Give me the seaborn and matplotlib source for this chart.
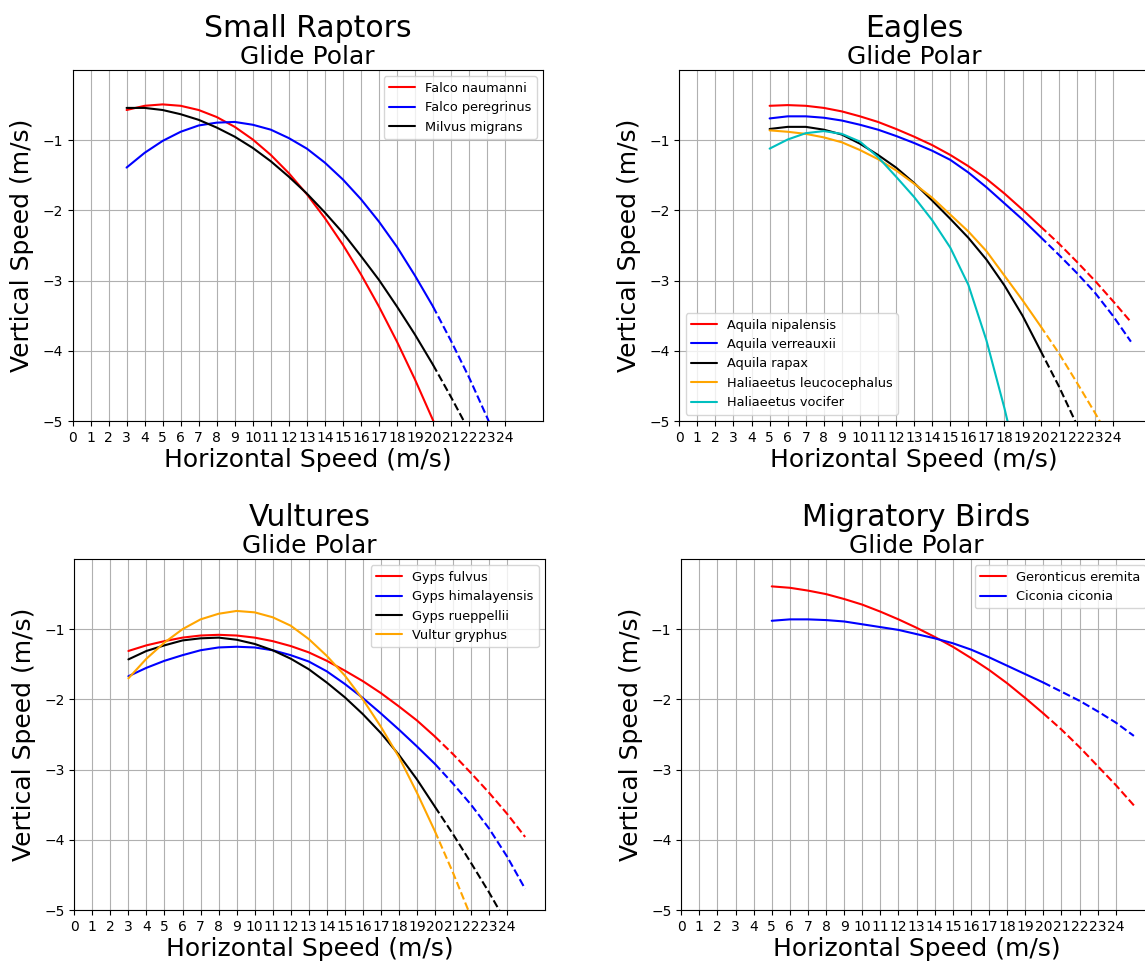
import matplotlib
matplotlib.use("Agg")
import matplotlib.pyplot as plt
import seaborn as sns

speeds_small = list(range(3, 26))
speeds_eagles = list(range(5, 26))
speeds_vultures = list(range(3, 26))
speeds_migratory = list(range(5, 26))

# sink rates (m/s), small raptors
falco_naumanni = [-0.57, -0.51, -0.49, -0.51, -0.57, -0.67, -0.81, -0.99, -1.21, -1.47, -1.77, -2.11,
                  -2.49, -2.91, -3.37, -3.87, -4.41, -4.99, -5.61, -6.27, -6.97, -7.71, -8.49]
falco_peregrinus = [-1.39, -1.18, -1.01, -0.88, -0.79, -0.75, -0.74, -0.78, -0.85, -0.97, -1.12, -1.32,
                    -1.56, -1.84, -2.16, -2.52, -2.93, -3.37, -3.86, -4.38, -4.95, -5.55, -6.20]
milvus_migrans = [-0.54, -0.54, -0.57, -0.63, -0.71, -0.82, -0.95, -1.11, -1.30, -1.52, -1.76, -2.03,
                  -2.32, -2.65, -2.99, -3.37, -3.77, -4.20, -4.66, -5.14, -5.65, -6.18, -6.74]

# eagles
aquila_nipalensis = [-0.51, -0.50, -0.51, -0.54, -0.59, -0.66, -0.74, -0.84, -0.95, -1.07, -1.21,
                     -1.37, -1.55, -1.76, -1.99, -2.23, -2.47, -2.73, -3.00, -3.29, -3.59]
aquila_verreauxii = [-0.69, -0.66, -0.66, -0.68, -0.72, -0.78, -0.85, -0.94, -1.04, -1.15, -1.28,
                     -1.46, -1.67, -1.90, -2.13, -2.38, -2.63, -2.89, -3.17, -3.50, -3.87]
aquila_rapax = [-0.84, -0.81, -0.81, -0.85, -0.92, -1.05, -1.21, -1.39, -1.61, -1.86, -2.12,
                -2.39, -2.70, -3.07, -3.50, -4.00, -4.50, -5.05, -5.65, -6.30, -7.00]
haliaeetus_leucocephalus = [-0.86, -0.88, -0.91, -0.96, -1.03, -1.14, -1.27, -1.43, -1.62, -1.82, -2.06,
                            -2.30, -2.58, -2.93, -3.28, -3.65, -4.03, -4.45, -4.88, -5.33, -5.80]
haliaeetus_vocifer = [-1.12, -0.99, -0.90, -0.87, -0.91, -1.02, -1.24, -1.52, -1.81, -2.14, -2.53,
                      -3.06, -3.85, -4.82, -5.90, -7.10, -8.40, -9.80, -11.30, -12.90, -14.60]

# vultures
gyps_fulvus = [-1.31, -1.23, -1.17, -1.12, -1.09, -1.08, -1.09, -1.12, -1.17, -1.24, -1.33, -1.45,
               -1.59, -1.74, -1.91, -2.10, -2.30, -2.53, -2.78, -3.05, -3.33, -3.63, -3.96]
gyps_himalayensis = [-1.67, -1.55, -1.45, -1.37, -1.30, -1.26, -1.25, -1.26, -1.30, -1.37, -1.46, -1.60,
                     -1.78, -1.98, -2.20, -2.43, -2.67, -2.92, -3.20, -3.50, -3.84, -4.24, -4.70]
gyps_rueppellii = [-1.43, -1.31, -1.23, -1.16, -1.13, -1.12, -1.15, -1.21, -1.30, -1.42, -1.57, -1.76,
                   -1.97, -2.21, -2.48, -2.79, -3.14, -3.53, -3.92, -4.33, -4.75, -5.20, -5.70]
vultur_gryphus = [-1.70, -1.42, -1.19, -1.00, -0.86, -0.78, -0.74, -0.76, -0.83, -0.95, -1.14, -1.38,
                  -1.66, -2.00, -2.39, -2.82, -3.33, -3.88, -4.47, -5.10, -5.80, -6.60, -7.40]

# migratory birds
geronticus_eremita = [-0.39, -0.41, -0.45, -0.50, -0.57, -0.65, -0.75, -0.86, -0.98, -1.11, -1.25,
                      -1.41, -1.58, -1.77, -1.98, -2.20, -2.43, -2.68, -2.95, -3.22, -3.51]
ciconia_ciconia = [-0.88, -0.86, -0.86, -0.87, -0.89, -0.93, -0.97, -1.01, -1.07, -1.13, -1.20,
                   -1.29, -1.40, -1.52, -1.64, -1.76, -1.89, -2.02, -2.17, -2.33, -2.52]

panels = [
    ("Small Raptors", speeds_small, "upper right",
     [("Falco naumanni", falco_naumanni, "red"),
      ("Falco peregrinus", falco_peregrinus, "blue"),
      ("Milvus migrans", milvus_migrans, "black")]),
    ("Eagles", speeds_eagles, "lower left",
     [("Aquila nipalensis", aquila_nipalensis, "red"),
      ("Aquila verreauxii", aquila_verreauxii, "blue"),
      ("Aquila rapax", aquila_rapax, "black"),
      ("Haliaeetus leucocephalus", haliaeetus_leucocephalus, "orange"),
      ("Haliaeetus vocifer", haliaeetus_vocifer, "#00bfbf")]),
    ("Vultures", speeds_vultures, "upper right",
     [("Gyps fulvus", gyps_fulvus, "red"),
      ("Gyps himalayensis", gyps_himalayensis, "blue"),
      ("Gyps rueppellii", gyps_rueppellii, "black"),
      ("Vultur gryphus", vultur_gryphus, "orange")]),
    ("Migratory Birds", speeds_migratory, "upper right",
     [("Geronticus eremita", geronticus_eremita, "red"),
      ("Ciconia ciconia", ciconia_ciconia, "blue")]),
]

sns.set_theme(style="ticks", rc={
    "axes.edgecolor": "black", "axes.linewidth": 0.8,
    "axes.grid": True, "grid.color": "#b0b0b0", "grid.linewidth": 0.8,
    "xtick.color": "black", "ytick.color": "black",
    "xtick.major.size": 3.5, "ytick.major.size": 3.5,
    "xtick.major.width": 0.8, "ytick.major.width": 0.8,
    "text.color": "black", "axes.labelcolor": "black",
})
plt.rcParams["font.family"] = ["DejaVu Sans"]

W, H = 1145, 963
fig = plt.figure(figsize=(W / 100, H / 100), dpi=100)

# axes boxes in pixels: left, top, right, bottom
boxes = [(72.5, 70, 543, 421), (679.3, 70, 1149, 421),
         (74.3, 559, 545, 910), (681.2, 559, 1152, 910)]

for (group, speeds, loc, species), (l, t, r, b) in zip(panels, boxes):
    ax = fig.add_axes([l / W, 1 - b / H, (r - l) / W, (b - t) / H])
    for name, sink, color in species:
        solid_x = [s for s in speeds if s <= 20]
        solid_y = [v for s, v in zip(speeds, sink) if s <= 20]
        dash_x = [s for s in speeds if s >= 20]
        dash_y = [v for s, v in zip(speeds, sink) if s >= 20]
        sns.lineplot(x=solid_x, y=solid_y, color=color, linewidth=1.5, label=name, ax=ax)
        sns.lineplot(x=dash_x, y=dash_y, color=color, linewidth=1.5, linestyle="--",
                     legend=False, ax=ax)

    xmax = speeds[-1] + 0.05 * (speeds[-1] - speeds[0])
    ax.set_xlim(0, xmax)
    ax.set_ylim(-5, 0)
    ax.set_xticks(range(0, 25))
    ax.set_yticks([-5, -4, -3, -2, -1])
    ax.tick_params(labelsize=10)
    ax.set_axisbelow(True)

    ax.set_xlabel("Horizontal Speed (m/s)", fontsize=18, labelpad=2)
    ax.set_ylabel("Vertical Speed (m/s)", fontsize=18, labelpad=6)
    ax.set_title("Glide Polar", fontsize=18, pad=4)
    ax.text(0.5, 1 + 33 / (b - t), group, transform=ax.transAxes,
            ha="center", va="baseline", fontsize=21.5)
    ax.legend(loc=loc, fontsize=9.3, framealpha=0.8)

fig.savefig("out.png", dpi=100)
